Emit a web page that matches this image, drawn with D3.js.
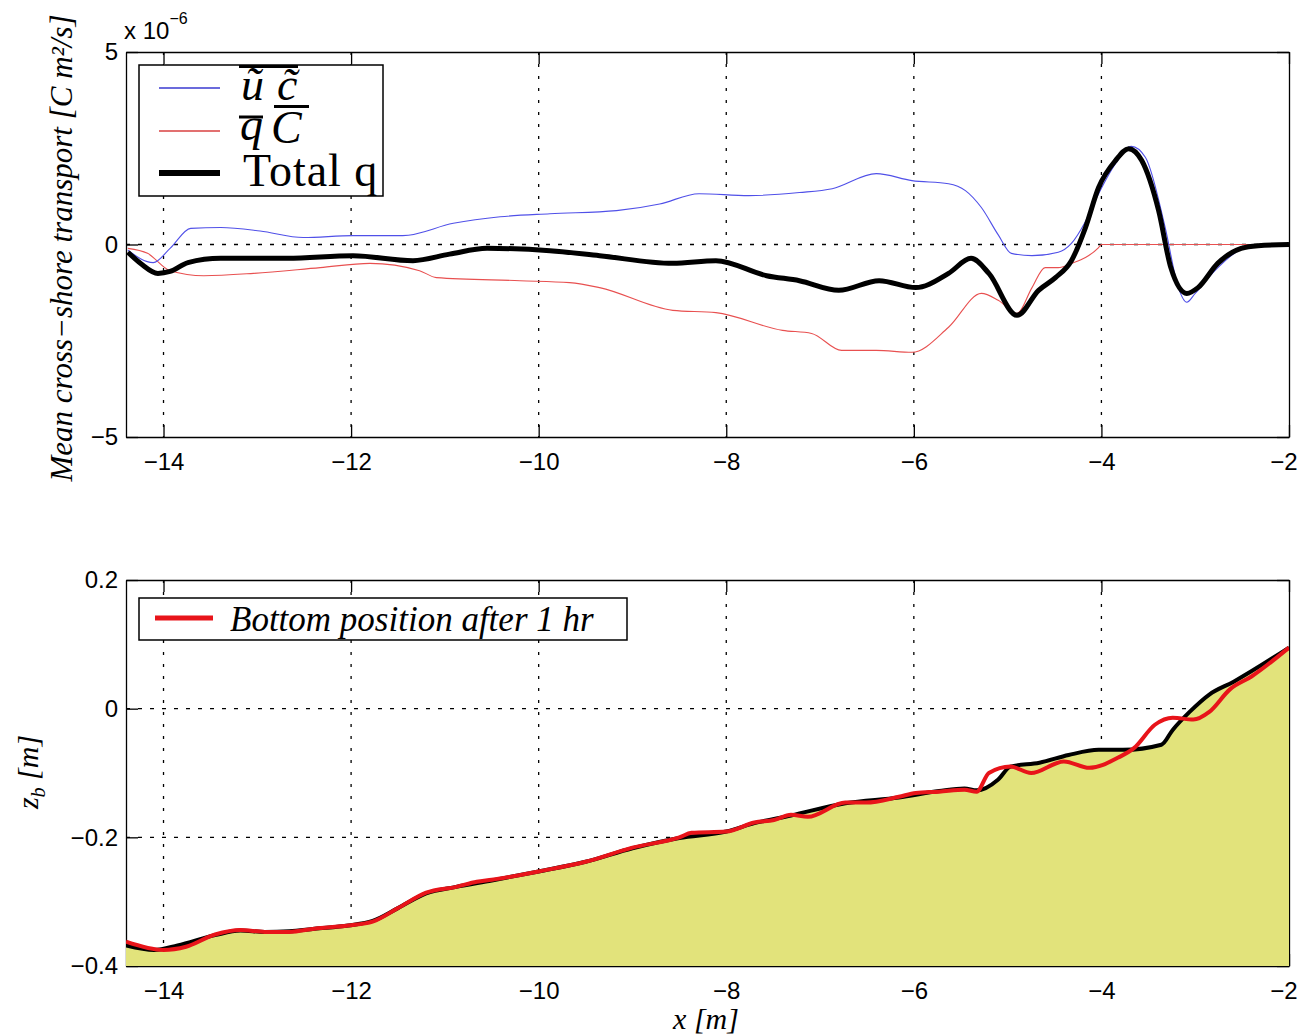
<!DOCTYPE html>
<html>
<head>
<meta charset="utf-8">
<script src="https://cdn.jsdelivr.net/npm/d3@7"></script>
<style>
  body { margin: 0; background: #fff; }
  svg { display: block; }
  .serif { font-family: "Liberation Serif", "Times New Roman", serif; }
</style>
</head>
<body>
<svg id="fig" width="1299" height="1036"></svg>
<script>
// ---- data ----
const xTicks = [-14, -12, -10, -8, -6, -4, -2];
const xTickLabels = ["\u221214", "\u221212", "\u221210", "\u22128", "\u22126", "\u22124", "\u22122"];
const qTicks = [-5, 0, 5];
const qTickLabels = ["\u22125", "0", "5"];
const zTicks = [-0.4, -0.2, 0, 0.2];
const zTickLabels = ["\u22120.4", "\u22120.2", "0", "0.2"];

// mean transport, units of 1e-6 C m^2/s
const ucMean = [
  [-14.38, -0.15], [-14.11, -0.47], [-13.93, -0.1], [-13.71, 0.42], [-13.39, 0.44],
  [-12.97, 0.35], [-12.51, 0.18], [-11.98, 0.23], [-11.45, 0.23], [-10.91, 0.55],
  [-10.41, 0.72], [-9.88, 0.8], [-9.17, 0.88], [-8.71, 1.05], [-8.29, 1.32],
  [-7.76, 1.27], [-7.22, 1.35], [-6.87, 1.45], [-6.4, 1.84], [-6.02, 1.66],
  [-5.63, 1.58], [-5.45, 1.4], [-5.28, 0.96], [-5.1, 0.25], [-4.96, -0.23],
  [-4.74, -0.29], [-4.46, -0.2], [-4.32, 0.03], [-4.17, 0.6], [-4.03, 1.32],
  [-3.85, 2.1], [-3.68, 2.55], [-3.53, 2.26], [-3.32, 0.44], [-3.18, -1.12],
  [-3.09, -1.5], [-3.0, -1.27], [-2.79, -0.68], [-2.54, -0.16], [-2.33, 0], [-2.0, 0]
];
const qcMean = [
  [-14.38, -0.1], [-14.17, -0.23], [-13.93, -0.68], [-13.57, -0.81], [-13.04, -0.75],
  [-12.33, -0.6], [-11.8, -0.49], [-11.27, -0.68], [-11.09, -0.86], [-10.2, -0.94],
  [-9.67, -0.99], [-9.35, -1.12], [-8.57, -1.71], [-8.11, -1.77], [-7.4, -2.23],
  [-7.09, -2.31], [-6.77, -2.75], [-6.4, -2.75], [-6.02, -2.8], [-5.63, -2.15],
  [-5.28, -1.27], [-5.1, -1.45], [-4.9, -1.79], [-4.74, -1.12], [-4.6, -0.6],
  [-4.46, -0.6], [-4.32, -0.49], [-4.17, -0.34], [-4.03, -0.08], [-4.0, 0], [-2.0, 0]
];
const totalQ = [
  [-14.38, -0.2], [-14.24, -0.5], [-14.06, -0.75], [-13.93, -0.7], [-13.74, -0.47],
  [-13.39, -0.36], [-12.68, -0.36], [-11.98, -0.29], [-11.34, -0.42], [-10.95, -0.25],
  [-10.55, -0.1], [-9.88, -0.16], [-9.35, -0.29], [-8.57, -0.49], [-8.11, -0.42],
  [-7.57, -0.81], [-7.22, -0.94], [-6.8, -1.19], [-6.37, -0.94], [-5.98, -1.12],
  [-5.63, -0.75], [-5.39, -0.36], [-5.2, -0.75], [-4.9, -1.84], [-4.67, -1.19],
  [-4.49, -0.86], [-4.32, -0.42], [-4.17, 0.44], [-4.03, 1.48], [-3.85, 2.18],
  [-3.71, 2.49], [-3.57, 2.18], [-3.39, 0.88], [-3.26, -0.6], [-3.09, -1.27],
  [-2.97, -1.12], [-2.76, -0.49], [-2.51, -0.1], [-2.33, -0.03], [-2.0, 0]
];

// bed level z_b [m]
const bedInitial = [
  [-14.4, -0.368], [-14.1, -0.375], [-13.85, -0.368], [-13.45, -0.352], [-13.18, -0.345],
  [-12.92, -0.347], [-12.66, -0.346], [-12.39, -0.342], [-12.03, -0.337], [-11.77, -0.33],
  [-11.5, -0.31], [-11.2, -0.287], [-10.88, -0.277], [-10.5, -0.267], [-10.0, -0.253],
  [-9.5, -0.238], [-9.0, -0.217], [-8.5, -0.201], [-8.0, -0.191], [-7.7, -0.178],
  [-7.31, -0.166], [-6.73, -0.147], [-6.16, -0.138], [-5.73, -0.128], [-5.46, -0.124],
  [-5.33, -0.127], [-5.1, -0.11], [-4.97, -0.09], [-4.66, -0.084], [-4.35, -0.072],
  [-4.03, -0.064], [-3.77, -0.064], [-3.36, -0.056], [-3.24, -0.033], [-3.06, -0.005],
  [-2.85, 0.022], [-2.59, 0.042], [-2.0, 0.095]
];
const bedAfter1h = [
  [-14.4, -0.362], [-14.0, -0.375], [-13.76, -0.37], [-13.45, -0.351], [-13.18, -0.344],
  [-12.92, -0.347], [-12.66, -0.347], [-12.39, -0.342], [-12.03, -0.337], [-11.77, -0.331],
  [-11.5, -0.31], [-11.2, -0.286], [-10.88, -0.277], [-10.66, -0.269], [-10.5, -0.266],
  [-10.0, -0.253], [-9.5, -0.238], [-9.0, -0.216], [-8.5, -0.2], [-8.37, -0.193],
  [-8.0, -0.191], [-7.7, -0.177], [-7.49, -0.173], [-7.31, -0.165], [-7.13, -0.168],
  [-6.73, -0.146], [-6.51, -0.146], [-6.16, -0.137], [-5.98, -0.131], [-5.73, -0.129],
  [-5.46, -0.126], [-5.33, -0.129], [-5.2, -0.1], [-4.97, -0.09], [-4.75, -0.1],
  [-4.4, -0.082], [-4.13, -0.092], [-3.82, -0.076], [-3.65, -0.061], [-3.43, -0.025],
  [-3.24, -0.014], [-3.02, -0.017], [-2.85, -0.005], [-2.63, 0.03], [-2.4, 0.05], [-2.0, 0.095]
];

// ---- layout ----
const svg = d3.select("#fig");
const left = 126, right = 1289;
const top1 = { top: 52, bottom: 437 };
const top2 = { top: 580, bottom: 966 };

const x = d3.scaleLinear().domain([-14.4, -2]).range([left, right]);
const yQ = d3.scaleLinear().domain([-5, 5]).range([top1.bottom, top1.top]);
const yZ = d3.scaleLinear().domain([-0.4, 0.2]).range([top2.bottom, top2.top]);

const defs = svg.append("defs");
[["clip1", top1], ["clip2", top2]].forEach(([id, p]) => {
  defs.append("clipPath").attr("id", id).append("rect")
    .attr("x", left).attr("y", p.top)
    .attr("width", right - left).attr("height", p.bottom - p.top);
});

function drawGrid(g, y, hVals, p) {
  g.selectAll(".vgrid").data(xTicks.filter((d) => d > -14.4 && d < -2)).join("line")
    .attr("x1", (d) => x(d)).attr("x2", (d) => x(d))
    .attr("y1", p.top).attr("y2", p.bottom)
    .attr("stroke", "#000").attr("stroke-width", 1.3)
    .attr("stroke-dasharray", "3,9");
  g.selectAll(".hgrid").data(hVals).join("line")
    .attr("x1", left).attr("x2", right)
    .attr("y1", (d) => y(d)).attr("y2", (d) => y(d))
    .attr("stroke", "#000").attr("stroke-width", 1.3)
    .attr("stroke-dasharray", "4,8");
}

function drawAxes(g, y, ticks, labels, p) {
  const style = (sel) => {
    sel.attr("font-family", "'Liberation Sans', Arial, sans-serif").attr("font-size", 24);
    sel.selectAll("path, line").attr("stroke", "#000").attr("stroke-width", 1.3);
    sel.selectAll("text").attr("fill", "#000");
  };
  const xb = g.append("g").attr("transform", `translate(0,${p.bottom})`)
    .call(d3.axisBottom(x).tickValues(xTicks).tickFormat((d, i) => xTickLabels[i])
      .tickSize(-12).tickSizeOuter(0).tickPadding(16)).call(style);
  // last label sits against the page edge, as in the original
  xb.selectAll(".tick text").filter((d) => d === -2)
    .attr("text-anchor", "end").attr("dx", 8);
  g.append("g").attr("transform", `translate(0,${p.top})`)
    .call(d3.axisTop(x).tickValues(xTicks).tickFormat("")
      .tickSize(-12).tickSizeOuter(0)).call(style);
  g.append("g").attr("transform", `translate(${left},0)`)
    .call(d3.axisLeft(y).tickValues(ticks).tickFormat((d, i) => labels[i])
      .tickSize(-12).tickSizeOuter(0).tickPadding(8)).call(style);
  g.append("g").attr("transform", `translate(${right},0)`)
    .call(d3.axisRight(y).tickValues(ticks).tickFormat("")
      .tickSize(-12).tickSizeOuter(0)).call(style);
}

// ---- top panel ----
const p1 = svg.append("g");
drawGrid(p1.append("g"), yQ, [0], top1);
drawAxes(p1.append("g"), yQ, qTicks, qTickLabels, top1);

const lineQ = d3.line().x((d) => x(d[0])).y((d) => yQ(d[1])).curve(d3.curveMonotoneX);
const lines1 = p1.append("g").attr("clip-path", "url(#clip1)");
lines1.append("path").datum(qcMean).attr("d", lineQ)
  .attr("fill", "none").attr("stroke", "#e85050").attr("stroke-width", 1.1);
lines1.append("path").datum(ucMean).attr("d", lineQ)
  .attr("fill", "none").attr("stroke", "#5050e8").attr("stroke-width", 1.1);
lines1.append("path").datum(totalQ).attr("d", lineQ)
  .attr("fill", "none").attr("stroke", "#000").attr("stroke-width", 5)
  .attr("stroke-linejoin", "round");

// exponent note
const expo = svg.append("text").attr("x", 124).attr("y", 39)
  .attr("font-family", "'Liberation Sans', Arial, sans-serif").attr("font-size", 24);
expo.append("tspan").text("x 10");
expo.append("tspan").attr("font-size", 16).attr("dy", -15).text("\u22126");

svg.append("text").attr("class", "serif")
  .attr("transform", `translate(72,248) rotate(-90)`)
  .attr("text-anchor", "middle").attr("font-style", "italic").attr("font-size", 31)
  .text("Mean cross\u2212shore transport [C m\u00b2/s]");

// legend top
const lg1 = svg.append("g");
lg1.append("rect").attr("x", 139).attr("y", 65).attr("width", 244).attr("height", 131)
  .attr("fill", "#fff").attr("stroke", "#000").attr("stroke-width", 1.5);
const legRows = [
  { y: 88, color: "#3a3ad0", w: 1.3 },
  { y: 131, color: "#d84040", w: 1.3 },
  { y: 173, color: "#000", w: 6 }
];
lg1.selectAll(".ll").data(legRows).join("line")
  .attr("x1", 159).attr("x2", 220).attr("y1", (d) => d.y).attr("y2", (d) => d.y)
  .attr("stroke", (d) => d.color).attr("stroke-width", (d) => d.w);
const lt = lg1.append("g").attr("class", "serif").attr("font-size", 46).attr("fill", "#000");
// row 1: overline(u~ c~)
lt.append("text").attr("x", 241).attr("y", 100).attr("font-style", "italic").text("\u0169");
lt.append("text").attr("x", 277).attr("y", 100).attr("font-style", "italic").text("c\u0303");
lt.append("line").attr("x1", 239).attr("x2", 298).attr("y1", 66.5).attr("y2", 66.5)
  .attr("stroke", "#000").attr("stroke-width", 3);
// row 2: q-bar C-bar
lt.append("text").attr("x", 240).attr("y", 140).attr("font-style", "italic").text("q");
lt.append("text").attr("x", 271).attr("y", 143).attr("font-style", "italic").text("C");
lt.append("line").attr("x1", 239).attr("x2", 263).attr("y1", 117).attr("y2", 117)
  .attr("stroke", "#000").attr("stroke-width", 3);
lt.append("line").attr("x1", 274).attr("x2", 309).attr("y1", 106.5).attr("y2", 106.5)
  .attr("stroke", "#000").attr("stroke-width", 3);
// row 3
lt.append("text").attr("x", 243).attr("y", 186).attr("letter-spacing", 1).text("Total q");

// ---- bottom panel ----
const p2 = svg.append("g");
drawGrid(p2.append("g"), yZ, [0, -0.2], top2);
drawAxes(p2.append("g"), yZ, zTicks, zTickLabels, top2);

const area = d3.area().x((d) => x(d[0])).y0(yZ(-0.4)).y1((d) => yZ(d[1]))
  .curve(d3.curveMonotoneX);
const lineZ = d3.line().x((d) => x(d[0])).y((d) => yZ(d[1])).curve(d3.curveMonotoneX);
const lines2 = p2.append("g").attr("clip-path", "url(#clip2)");
lines2.append("path").datum(bedInitial).attr("d", area).attr("fill", "#e2e37b");
lines2.append("path").datum(bedInitial).attr("d", lineZ)
  .attr("fill", "none").attr("stroke", "#000").attr("stroke-width", 4);
lines2.append("path").datum(bedAfter1h).attr("d", lineZ)
  .attr("fill", "none").attr("stroke", "#e8141a").attr("stroke-width", 4);

// legend bottom
const lg2 = svg.append("g");
lg2.append("rect").attr("x", 139).attr("y", 598).attr("width", 488).attr("height", 42)
  .attr("fill", "#fff").attr("stroke", "#000").attr("stroke-width", 1.5);
lg2.append("line").attr("x1", 155).attr("x2", 213).attr("y1", 618).attr("y2", 618)
  .attr("stroke", "#e8141a").attr("stroke-width", 5);
lg2.append("text").attr("class", "serif").attr("x", 230).attr("y", 631)
  .attr("font-style", "italic").attr("font-size", 35)
  .text("Bottom position after 1 hr");

// axis labels
const zl = svg.append("text").attr("class", "serif")
  .attr("transform", `translate(38,772) rotate(-90)`)
  .attr("text-anchor", "middle").attr("font-style", "italic").attr("font-size", 30);
zl.append("tspan").text("z");
zl.append("tspan").attr("font-size", 20).attr("dy", 7).text("b");
zl.append("tspan").attr("dy", -7).text(" [m]");

svg.append("text").attr("class", "serif")
  .attr("x", 706).attr("y", 1029).attr("text-anchor", "middle")
  .attr("font-style", "italic").attr("font-size", 30).text("x [m]");
</script>
</body>
</html>
